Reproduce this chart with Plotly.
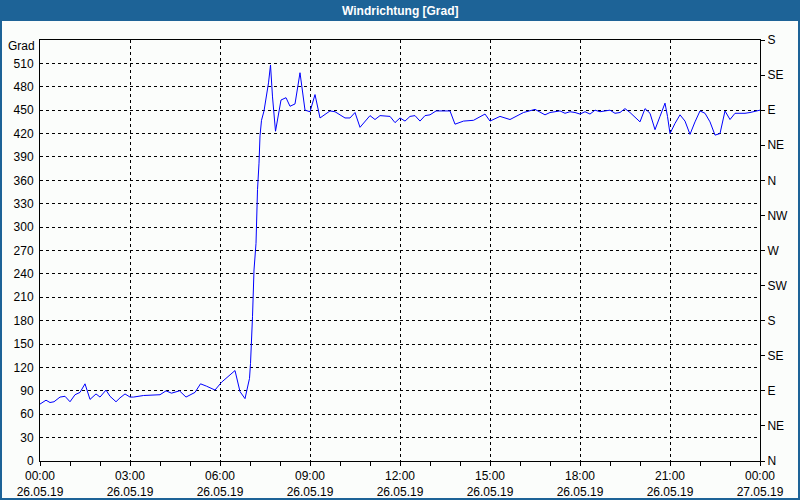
import plotly.graph_objects as go

# ---- data ----
times = ["00:00","00:12","00:20","00:28","00:40","00:50","01:00","01:10","01:20","01:30",
         "01:40","01:52","02:00","02:12","02:20","02:32","02:40","02:50","03:00","03:07",
         "03:27","04:00","04:12","04:23","04:39","04:52","05:10","05:21","05:33","05:50",
         "06:03","06:30","06:40","06:50","06:59","07:01","07:05","07:08","07:12","07:15",
         "07:18","07:20","07:23","07:28","07:37","07:41","07:45","07:51","08:02","08:12",
         "08:20","08:30","08:40","08:50","09:00","09:10","09:20","09:40","09:50","10:10",
         "10:20","10:30","10:40","11:00","11:10","11:20","11:40","11:50","12:00","12:10",
         "12:20","12:30","12:40","12:50","13:00","13:12","13:40","13:50","14:07","14:27",
         "14:50","15:00","15:20","15:40","16:07","16:20","16:30","16:50","17:00","17:20",
         "17:30","17:40","17:50","18:00","18:10","18:20","18:30","18:40","18:50","19:00",
         "19:10","19:20","19:30","19:40","20:00","20:10","20:20","20:30","20:40","20:50",
         "20:55","21:00","21:10","21:20","21:30","21:40","21:50","22:00","22:10","22:20",
         "22:30","22:40","22:50","23:00","23:10","23:30","23:40","23:50"]
values = [73, 78, 75, 76, 82, 83, 76, 85, 88, 99,
          79, 86, 82, 91, 83, 76, 81, 86, 82, 82,
          84, 85, 90, 87, 90, 82, 88, 99, 96, 91,
          101, 116, 89, 80, 106, 125, 185, 245, 279, 348,
          382, 417, 437, 449, 485, 508, 467, 423, 463, 466,
          455, 458, 498, 450, 448, 470, 440, 449, 448, 440,
          440, 447, 428, 443, 438, 443, 442, 434, 440, 436,
          442, 443, 436, 443, 444, 449, 449, 432, 436, 437,
          445, 436, 442, 438, 447, 449, 451, 444, 447, 449,
          446, 448, 447, 445, 448, 445, 450, 448, 449, 450,
          446, 447, 452, 447, 435, 452, 446, 425, 442, 459,
          442, 420, 433, 444, 436, 419, 435, 449, 446, 435,
          418, 420, 449, 438, 446, 446, 447, 449]
last_time = "2019-05-27 00:00"
last_value = 450

x_ticks = ["2019-05-26 00:00", "2019-05-26 03:00", "2019-05-26 06:00", "2019-05-26 09:00",
           "2019-05-26 12:00", "2019-05-26 15:00", "2019-05-26 18:00", "2019-05-26 21:00",
           "2019-05-27 00:00"]
x_ticklabels = ["00:00<br>26.05.19", "03:00<br>26.05.19", "06:00<br>26.05.19", "09:00<br>26.05.19",
                "12:00<br>26.05.19", "15:00<br>26.05.19", "18:00<br>26.05.19", "21:00<br>26.05.19",
                "00:00<br>27.05.19"]
y_ticks = list(range(0, 511, 30))
dir_ticks = list(range(0, 541, 45))
dir_labels = ["N", "NE", "E", "SE", "S", "SW", "W", "NW", "N", "NE", "E", "SE", "S"]

xs = ["2019-05-26 " + t for t in times] + [last_time]
ys = values + [last_value]

W, H = 800, 500
ML, MR, MT, MB = 40, 40, 40, 39
PW, PH = W - ML - MR, H - MT - MB
BG = "#fbfdfb"
BLUE = "#1d6397"
FONT = "Liberation Sans, Arial, sans-serif"

def px_x(p):
    return (p - ML) / PW

def px_y(p):
    return (H - MB - p) / PH

fig = go.Figure()
fig.add_trace(go.Scatter(x=xs, y=ys, mode="lines", line=dict(color="#0000ff", width=1),
                         hoverinfo="x+y", showlegend=False))
fig.add_trace(go.Scatter(x=xs, y=ys, mode="lines", line=dict(width=0), yaxis="y2",
                         hoverinfo="skip", showlegend=False, opacity=0))

grid = dict(showgrid=True, gridcolor="black", gridwidth=1, griddash="3px,3px")

fig.update_layout(
    width=W, height=H,
    margin=dict(l=ML, r=MR, t=MT, b=MB, pad=0, autoexpand=False),
    paper_bgcolor=BG, plot_bgcolor=BG,
    font=dict(family=FONT, size=12, color="black"),
    xaxis=dict(type="date", range=["2019-05-26 00:00", "2019-05-27 00:00"],
               tickvals=x_ticks, ticktext=x_ticklabels, ticks="outside", ticklen=4,
               tickcolor="black", showline=True, linecolor="black", linewidth=1, mirror=True,
               zeroline=False, automargin=False,
               minor=dict(ticks="outside", ticklen=4, tickcolor="black", dtick=3600000,
                          showgrid=False),
               **grid),
    yaxis=dict(range=[0, 540], tickvals=y_ticks, ticks="", showline=True, linecolor="black",
               linewidth=1, zeroline=False, ticklabelstandoff=3, automargin=False, **grid),
    yaxis2=dict(range=[0, 540], overlaying="y", side="right", tickvals=dir_ticks,
                ticktext=dir_labels, ticks="outside", ticklen=4, tickcolor="black",
                showline=True, linecolor="black", linewidth=1, showgrid=False, zeroline=False,
                automargin=False),
    shapes=[
        dict(type="rect", xref="paper", yref="paper", x0=px_x(0), x1=px_x(W),
             y0=px_y(21), y1=px_y(0), fillcolor=BLUE, line=dict(width=0), layer="above"),
        dict(type="rect", xref="paper", yref="paper", x0=px_x(1), x1=px_x(W - 1),
             y0=px_y(H - 1), y1=px_y(1), line=dict(color=BLUE, width=2), layer="above"),
    ],
    annotations=[
        dict(text="<b>Windrichtung [Grad]</b>", xref="paper", yref="paper",
             x=px_x(W / 2), y=px_y(10.5), xanchor="center", yanchor="middle",
             showarrow=False, font=dict(family=FONT, size=12, color="white")),
        dict(text="Grad", xref="paper", yref="paper", x=px_x(37), y=px_y(46),
             xanchor="right", yanchor="middle", showarrow=False,
             font=dict(family=FONT, size=12, color="black")),
    ],
)

fig.write_html("out.html", config={"displayModeBar": False},
               post_script="document.body.style.margin='0';document.body.style.padding='0';")
